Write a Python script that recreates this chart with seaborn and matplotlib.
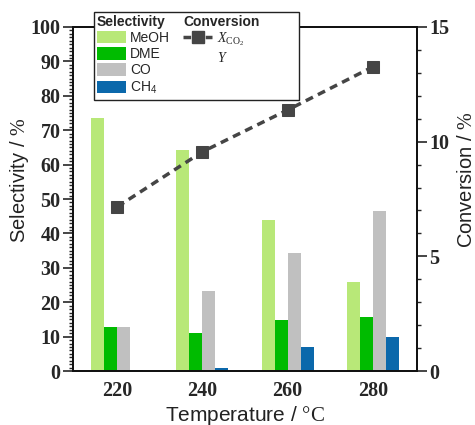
import numpy as np
import pandas as pd
import matplotlib
matplotlib.use("Agg")
import matplotlib.pyplot as plt
import seaborn as sns
from matplotlib.patches import Patch
from matplotlib.lines import Line2D
from matplotlib.ticker import MultipleLocator
from matplotlib.font_manager import FontProperties

# Reaction temperatures (°C) and product selectivities (%)
temperatures = ["220", "240", "260", "280"]
products = ["MeOH", "DME", "CO", "CH$_\\mathsf{4}$"]
meoh = [73.5, 64.2, 43.9, 26.0]
dme = [12.9, 11.1, 14.8, 15.8]
co = [12.9, 23.3, 34.4, 46.6]
ch4 = [0.2, 1.0, 6.9, 9.8]
# CO2 conversion (%)
conversion = [7.16, 9.56, 11.38, 13.26]

bar_colors = ["#b8e878", "#00bb00", "#c0c0c0", "#0b68ab"]
line_color = "#454545"

sns.set_style("ticks")
plt.rcParams.update({
    "font.family": ["Liberation Sans", "DejaVu Sans"],
    "mathtext.fontset": "custom",
    "mathtext.rm": "Liberation Serif",
    "mathtext.it": "Liberation Serif:italic",
    "mathtext.sf": "Liberation Sans",
})

df = pd.DataFrame({
    "Temperature": temperatures * 4,
    "Product": np.repeat(products, len(temperatures)),
    "Selectivity": meoh + dme + co + ch4,
})

fig = plt.figure(figsize=(4.75, 4.25), dpi=100)
ax = fig.add_axes([0.1537, 0.127, 0.7242, 0.8095])

sns.barplot(data=df, x="Temperature", y="Selectivity", hue="Product",
            order=temperatures, hue_order=products, palette=bar_colors,
            width=0.61, gap=0, saturation=1, linewidth=0, legend=False, ax=ax)
ax.set_xlim(-0.52, 3.52)
ax.set_ylim(0, 100)
ax.yaxis.set_major_locator(MultipleLocator(10))
ax.yaxis.set_minor_locator(MultipleLocator(1))

ax2 = ax.twinx()
sns.lineplot(x=np.arange(len(temperatures)), y=conversion, ax=ax2,
             color=line_color, marker="s", markersize=8.5, markeredgecolor=line_color,
             linewidth=2.5, linestyle="--")
ax2.lines[0].set_dashes([2.3, 1.6])
ax2.set_ylim(0, 15)
ax2.yaxis.set_major_locator(MultipleLocator(5))
ax2.yaxis.set_minor_locator(MultipleLocator(1))

tick_font = FontProperties(family="Liberation Serif", weight="bold", size=14.5)
for a in (ax, ax2):
    for s in a.spines.values():
        s.set_visible(True)
        s.set_linewidth(1.3)
        s.set_color("#111111")
    for lab in a.get_yticklabels():
        lab.set_fontproperties(tick_font)
for lab in ax.get_xticklabels():
    lab.set_fontproperties(tick_font)
ax.tick_params(axis="y", which="major", direction="out", length=7, width=1.2, pad=2)
ax.tick_params(axis="y", which="minor", direction="out", length=3, width=1.0)
ax.tick_params(axis="x", length=0, pad=7)
ax2.tick_params(axis="y", which="major", direction="out", length=7, width=1.2, pad=2)
ax2.tick_params(axis="y", which="minor", direction="out", length=3, width=1.0)

ax.set_xlabel("Temperature / $\\mathrm{°C}$", labelpad=2, fontsize=15, color="#222222")
ax.set_ylabel("Selectivity / $\\mathrm{\\%}$", fontsize=14.5, color="#222222")
ax2.set_ylabel("Conversion / $\\mathrm{\\%}$", fontsize=14.5, color="#222222")
ax.yaxis.set_label_coords(-0.123, 0.555)
ax2.yaxis.set_label_coords(1.117, 0.555)

# Two-column legend with bold headers
blank = Line2D([], [], linestyle="none")
handles = [blank] + [Patch(facecolor=c, edgecolor="none") for c in bar_colors] + [
    blank,
    Line2D([], [], color=line_color, marker="s", markersize=8.5, linestyle="--",
           linewidth=2.5, dashes=[2.2, 1.0]),
    blank, blank, blank,
]
headers = ["Selectivity", "Conversion"]
labels = (["Selectivity"] + products
          + ["Conversion", "$X_{\\mathrm{CO_2}}$", "$Y$" + "\u00a0" * 19, "", ""])
leg = ax2.legend(handles, labels, ncol=2, loc="upper left",
                 bbox_to_anchor=(0.061, 1.044), borderaxespad=0,
                 frameon=True, fancybox=False, framealpha=1, edgecolor="#222222",
                 handlelength=2.1, handleheight=1.0, labelspacing=0.16,
                 handletextpad=0.3, columnspacing=0.95, borderpad=0.2,
                 prop=dict(family="Liberation Sans", size=10))
leg.get_frame().set_linewidth(1.0)
for t in leg.get_texts():
    if t.get_text() in headers:
        t.set_fontweight("bold")
for column in leg._legend_handle_box.get_children():
    for row in column.get_children():
        da, ta = row.get_children()
        if ta.get_text() in headers:
            da.width = 0
            row.sep = 0

fig.savefig("out.png", dpi=100)
